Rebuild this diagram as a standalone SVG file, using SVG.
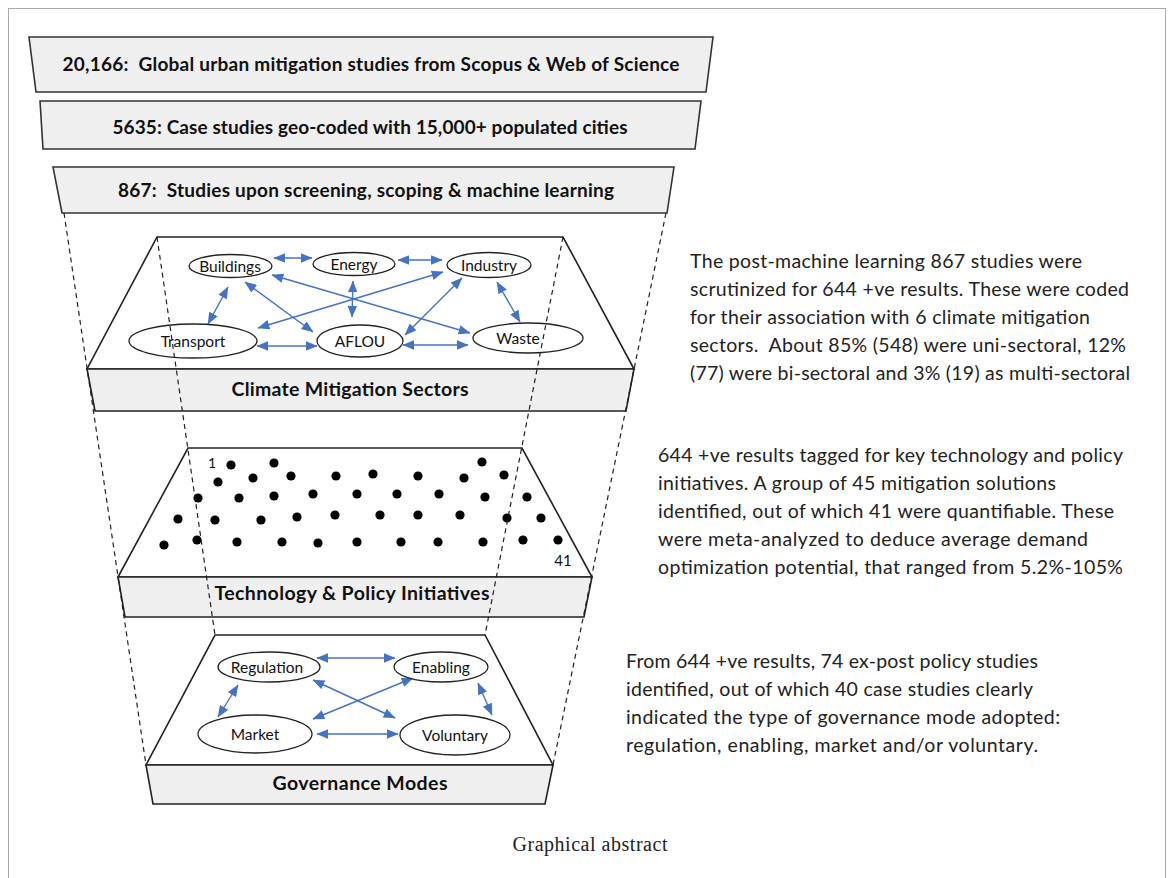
<svg xmlns="http://www.w3.org/2000/svg" width="1173" height="878" viewBox="0 0 1173 878">
<style>
.banner{fill:#efefef;stroke:#333;stroke-width:1.6}
.bt{font-family:Lato,"Liberation Sans",sans-serif;font-weight:bold;font-size:19px;fill:#111;text-anchor:middle}
.top{fill:#fff;stroke:#222;stroke-width:1.6}
.front{fill:#efefef;stroke:#222;stroke-width:1.6}
.lab{font-family:Lato,"Liberation Sans",sans-serif;font-weight:bold;font-size:19.5px;fill:#111;text-anchor:middle}
.node{fill:#fff;stroke:#222;stroke-width:1.3}
.nt{font-family:Lato,"Liberation Sans",sans-serif;font-size:15.5px;fill:#111;text-anchor:middle}
.arr{stroke:#4472c4;stroke-width:1.4;fill:none;marker-start:url(#ah);marker-end:url(#ah)}
.dash{stroke:#222;stroke-width:1.2;stroke-dasharray:5 4;fill:none}
.dot{fill:#000}
.para{font-family:Lato,"Liberation Sans",sans-serif;font-size:19.5px;fill:#222}
.num{font-family:Lato,"Liberation Sans",sans-serif;font-size:14px;fill:#111;text-anchor:middle}
</style>
<defs>
<marker id="ah" viewBox="0 0 10 8" refX="9.5" refY="4" markerWidth="12" markerHeight="9.6" markerUnits="userSpaceOnUse" orient="auto-start-reverse">
<path d="M0,0 L10,4 L0,8 z" fill="#4472c4"/>
</marker>
</defs>
<rect x="8.5" y="8.5" width="1157" height="900" fill="#fff" stroke="#aaa" stroke-width="1"/>

<g id="banner1">
<polygon class="banner" points="29,37 713,37 706,92 36,92"/>
<text class="bt" x="371" y="71" textLength="617" xml:space="preserve">20,166:  Global urban mitigation studies from Scopus &amp; Web of Science</text>
</g>
<g id="banner2">
<polygon class="banner" points="40,101 701,101 695,149 43,149"/>
<text class="bt" x="370" y="134" textLength="515">5635: Case studies geo-coded with 15,000+ populated cities</text>
</g>
<g id="banner3">
<polygon class="banner" points="53,167 674,167 667,213 62,213"/>
<text class="bt" x="366" y="197" textLength="496" xml:space="preserve">867:  Studies upon screening, scoping &amp; machine learning</text>
</g>

<g id="sectors-platform">
<polygon class="top" points="157,237 563,237 634,369 87,369"/>
<polygon class="front" points="87,369 634,369 626,411 95,411"/>
<text class="lab" x="350" y="396" textLength="237">Climate Mitigation Sectors</text>
</g>
<g id="tech-platform">
<polygon class="top" points="188,448 522,448 592,577 118,577"/>
<polygon class="front" points="118,577 592,577 584,617 125,617"/>
<text class="lab" x="352" y="600" textLength="275">Technology &amp; Policy Initiatives</text>
</g>
<g id="gov-platform">
<polygon class="top" points="215,635 485,635 553,765 146,765"/>
<polygon class="front" points="146,765 553,765 545,804 153,804"/>
<text class="lab" x="360" y="790" textLength="175">Governance Modes</text>
</g>

<g id="connectors">
<line class="arr" x1="274" y1="258" x2="312" y2="258"/>
<line class="arr" x1="398" y1="260" x2="442" y2="260"/>
<line class="arr" x1="228" y1="287" x2="208" y2="324"/>
<line class="arr" x1="245" y1="282" x2="313" y2="332"/>
<line class="arr" x1="272" y1="275" x2="470" y2="333"/>
<line class="arr" x1="353" y1="281" x2="352" y2="317"/>
<line class="arr" x1="258" y1="328" x2="443" y2="272"/>
<line class="arr" x1="462" y1="278" x2="405" y2="335"/>
<line class="arr" x1="497" y1="282" x2="520" y2="322"/>
<line class="arr" x1="257" y1="346" x2="317" y2="346"/>
<line class="arr" x1="403" y1="345" x2="468" y2="345"/>
<line class="arr" x1="317" y1="658" x2="395" y2="658"/>
<line class="arr" x1="238" y1="685" x2="218" y2="717"/>
<line class="arr" x1="313" y1="680" x2="395" y2="718"/>
<line class="arr" x1="413" y1="678" x2="313" y2="719"/>
<line class="arr" x1="478" y1="683" x2="492" y2="715"/>
<line class="arr" x1="317" y1="734" x2="398" y2="734"/>
</g>

<g id="buildings"><ellipse class="node" cx="230.5" cy="266" rx="41.5" ry="11.5"/><text class="nt" x="230" y="271.5">Buildings</text></g>
<g id="energy"><ellipse class="node" cx="354" cy="264" rx="41" ry="11.5"/><text class="nt" x="354" y="269.5">Energy</text></g>
<g id="industry"><ellipse class="node" cx="489" cy="265" rx="42" ry="12.5"/><text class="nt" x="489" y="270.5">Industry</text></g>
<g id="transport"><ellipse class="node" cx="193" cy="341" rx="64" ry="17"/><text class="nt" x="193" y="346.5">Transport</text></g>
<g id="aflou"><ellipse class="node" cx="360" cy="341" rx="43" ry="16"/><text class="nt" x="360" y="346.5">AFLOU</text></g>
<g id="waste"><ellipse class="node" cx="528" cy="338" rx="55" ry="15"/><text class="nt" x="518" y="343.5">Waste</text></g>

<g id="regulation"><ellipse class="node" cx="269" cy="667" rx="51" ry="15"/><text class="nt" x="267" y="672.5">Regulation</text></g>
<g id="enabling"><ellipse class="node" cx="441" cy="667" rx="47" ry="15"/><text class="nt" x="441" y="672.5">Enabling</text></g>
<g id="market"><ellipse class="node" cx="255" cy="734" rx="57" ry="19"/><text class="nt" x="255" y="739.5">Market</text></g>
<g id="voluntary"><ellipse class="node" cx="455" cy="735" rx="55" ry="20"/><text class="nt" x="455" y="740.5">Voluntary</text></g>

<g id="initiatives">
<circle class="dot" cx="231" cy="465" r="4.6"/><circle class="dot" cx="274" cy="463" r="4.6"/>
<circle class="dot" cx="218" cy="482" r="4.6"/><circle class="dot" cx="253" cy="478" r="4.6"/>
<circle class="dot" cx="291" cy="476" r="4.6"/><circle class="dot" cx="336" cy="476" r="4.6"/>
<circle class="dot" cx="198" cy="498" r="4.6"/><circle class="dot" cx="239" cy="498" r="4.6"/>
<circle class="dot" cx="274" cy="496" r="4.6"/><circle class="dot" cx="313" cy="494" r="4.6"/>
<circle class="dot" cx="357" cy="494" r="4.6"/><circle class="dot" cx="178" cy="519" r="4.6"/>
<circle class="dot" cx="215" cy="520" r="4.6"/><circle class="dot" cx="261" cy="520" r="4.6"/>
<circle class="dot" cx="297" cy="517" r="4.6"/><circle class="dot" cx="335" cy="515" r="4.6"/>
<circle class="dot" cx="164" cy="545" r="4.6"/><circle class="dot" cx="197" cy="540" r="4.6"/>
<circle class="dot" cx="237" cy="542" r="4.6"/><circle class="dot" cx="282" cy="542" r="4.6"/>
<circle class="dot" cx="318" cy="543" r="4.6"/><circle class="dot" cx="357" cy="542" r="4.6"/>
<circle class="dot" cx="373" cy="474" r="4.6"/><circle class="dot" cx="418" cy="476" r="4.6"/>
<circle class="dot" cx="464" cy="478" r="4.6"/><circle class="dot" cx="482" cy="462" r="4.6"/>
<circle class="dot" cx="504" cy="475" r="4.6"/><circle class="dot" cx="397" cy="494" r="4.6"/>
<circle class="dot" cx="439" cy="494" r="4.6"/><circle class="dot" cx="485" cy="497" r="4.6"/>
<circle class="dot" cx="527" cy="497" r="4.6"/><circle class="dot" cx="380" cy="515" r="4.6"/>
<circle class="dot" cx="418" cy="515" r="4.6"/><circle class="dot" cx="460" cy="515" r="4.6"/>
<circle class="dot" cx="507" cy="518" r="4.6"/><circle class="dot" cx="541" cy="518" r="4.6"/>
<circle class="dot" cx="401" cy="542" r="4.6"/><circle class="dot" cx="438" cy="542" r="4.6"/>
<circle class="dot" cx="483" cy="542" r="4.6"/><circle class="dot" cx="523" cy="540" r="4.6"/>
<circle class="dot" cx="558" cy="540" r="4.6"/>
<text class="num" x="212" y="468">1</text>
<text class="num" x="563" y="566" style="font-size:15px">41</text>
</g>

<g id="funnel-lines">
<line class="dash" x1="64" y1="213" x2="146" y2="765"/>
<line class="dash" x1="666" y1="213" x2="553" y2="765"/>
<line class="dash" x1="157" y1="237" x2="215" y2="635"/>
<line class="dash" x1="563" y1="237" x2="485" y2="635"/>
</g>

<g id="text-sectors">
<text class="para" x="690" y="268" textLength="392">The post-machine learning 867 studies were</text>
<text class="para" x="690" y="296" textLength="439">scrutinized for 644 +ve results. These were coded</text>
<text class="para" x="690" y="324" textLength="400">for their association with 6 climate mitigation</text>
<text class="para" x="690" y="352" textLength="436" xml:space="preserve">sectors.  About 85% (548) were uni-sectoral, 12%</text>
<text class="para" x="690" y="380" textLength="440">(77) were bi-sectoral and 3% (19) as multi-sectoral</text>
</g>
<g id="text-initiatives">
<text class="para" x="658" y="462" textLength="465">644 +ve results tagged for key technology and policy</text>
<text class="para" x="658" y="490" textLength="398">initiatives. A group of 45 mitigation solutions</text>
<text class="para" x="658" y="518" textLength="456">identified, out of which 41 were quantifiable. These</text>
<text class="para" x="658" y="546" textLength="430">were meta-analyzed to deduce average demand</text>
<text class="para" x="658" y="574" textLength="465">optimization potential, that ranged from 5.2%-105%</text>
</g>
<g id="text-governance">
<text class="para" x="626" y="668" textLength="412">From 644 +ve results, 74 ex-post policy studies</text>
<text class="para" x="626" y="696" textLength="407">identified, out of which 40 case studies clearly</text>
<text class="para" x="626" y="724" textLength="434">indicated the type of governance mode adopted:</text>
<text class="para" x="626" y="752" textLength="412">regulation, enabling, market and/or voluntary.</text>
</g>

<text x="590" y="851" font-family="'Liberation Serif',serif" font-size="20" fill="#222" text-anchor="middle" textLength="155">Graphical abstract</text>
</svg>
